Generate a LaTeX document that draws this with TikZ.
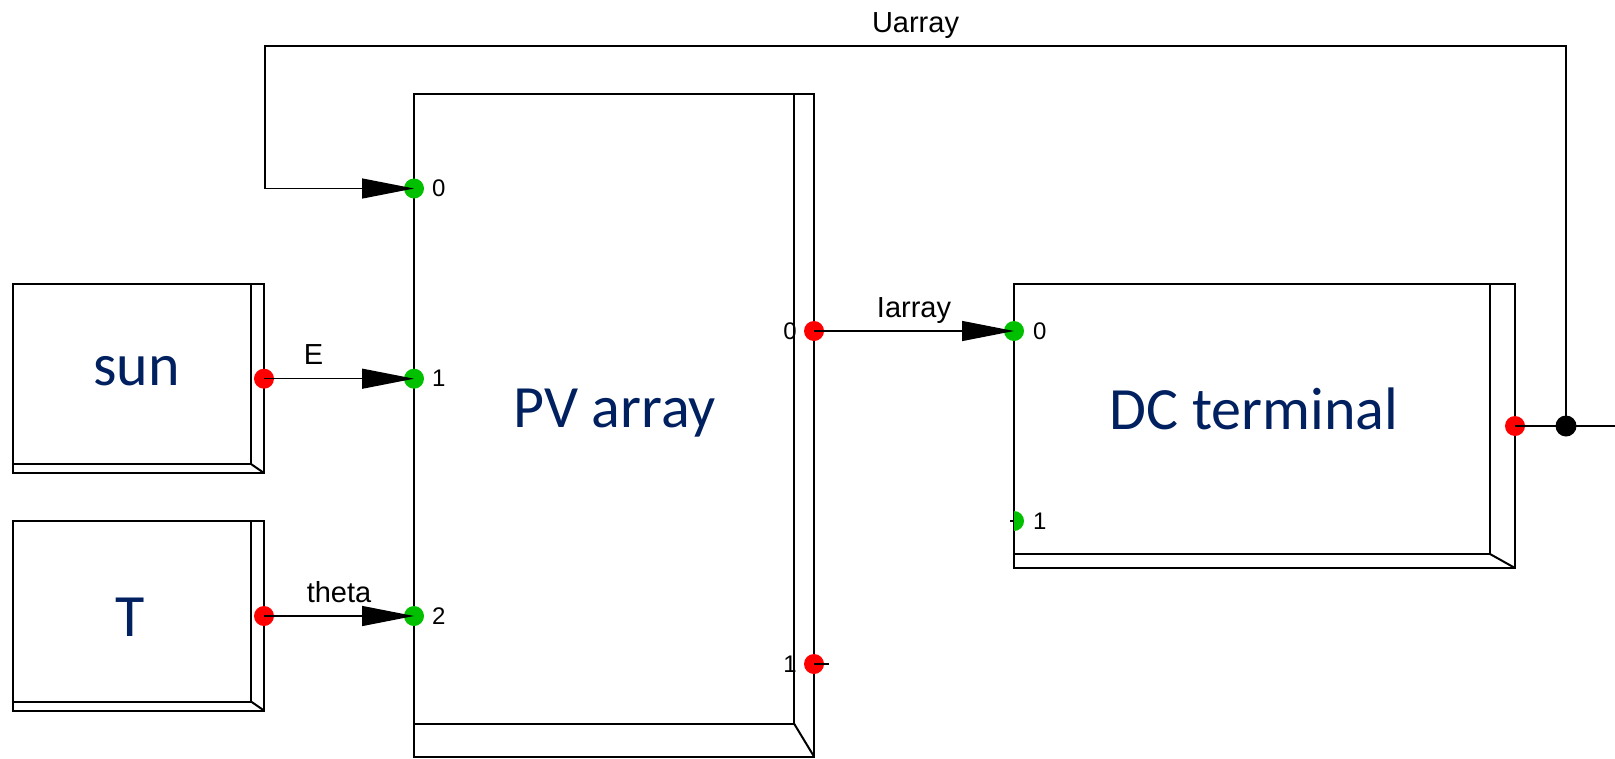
\documentclass[tikz,border=0pt]{standalone}
\usepackage{fontspec}
\setmainfont{Liberation Sans}
\newfontfamily\blockfont{Carlito}
\usetikzlibrary{arrows.meta}
\definecolor{portred}{RGB}{255,0,0}
\definecolor{portgreen}{RGB}{0,192,0}
\definecolor{blocknavy}{RGB}{0,32,96}
\tikzset{
	boxline/.style={line width=2pt},
	wire/.style={line width=1.3pt},
	sig/.style={wire, -{Triangle[length=52pt,width=20pt]}},
	outport/.style={circle, fill=portred, minimum size=20pt, inner sep=0pt},
	inport/.style={circle, fill=portgreen, minimum size=20pt, inner sep=0pt},
	junction/.style={circle, fill=black, minimum size=21pt, inner sep=0pt},
	portnum/.style={font=\fontsize{24}{28}\selectfont, inner sep=0pt},
	signame/.style={font=\fontsize{29}{34}\selectfont, anchor=base, yshift=14pt, inner sep=0pt},
	blockname/.style={font=\blockfont\fontsize{60}{72}\selectfont, text=blocknavy, anchor=base, inner sep=0pt}
}
\newcommand{\blockbox}[6]{
	\draw[boxline] (#1,#2) rectangle (#3,#4);
	\draw[boxline] (#3-#5,#2) -- (#3-#5,#4-#6) -- (#1,#4-#6);
	\draw[boxline] (#3-#5,#4-#6) -- (#3,#4);
}
\begin{document}
\begin{tikzpicture}[x=1pt,y=-1pt]
	\useasboundingbox (0,0) rectangle (1615,758);
	\blockbox{13}{284}{264}{473}{13}{9}
	\blockbox{13}{521}{264}{710.5}{13}{9}
	\blockbox{414}{94}{814}{756.5}{20}{33}
	\blockbox{1014}{284}{1515}{568}{25}{14}
	\node[blockname] (sun) at (136.5,385) {sun};
	\node[blockname] (temp) at (130.5,636) {T};
	\node[blockname] (pv) at (614.5,427) {PV array};
	\node[blockname] (dc) at (1254,429) {DC terminal};
	
	\node[outport] (sunout) at (264,378.7) {};
	\node[outport] (tout) at (264,616) {};
	\foreach \n/\y in {0/188.5,1/378.7,2/616} {
		\node[inport] (pvin\n) at (414,\y) {};
		\node[portnum, anchor=west] (pvinnum\n) at (432,\y) {\n};
	}
	\foreach \n/\y in {0/331,1/664} {
		\node[outport] (pvout\n) at (814,\y) {};
		\node[portnum, anchor=east] (pvoutnum\n) at (797,\y) {\n};
	}
	\node[inport] (dcin0) at (1014,331) {};
	\node[portnum, anchor=west] (dcinnum0) at (1033,331) {0};
	\coordinate (dcin1) at (1014,521);
	\begin{scope}
		\clip (1014,505) rectangle (1030,537);
		\fill[portgreen] (dcin1) circle[radius=10pt];
	\end{scope}
	\node[portnum, anchor=west] (dcinnum1) at (1033,521) {1};
	\node[outport] (dcout) at (1515,426) {};
	
	\coordinate (jctpt) at (1566,426);
	\coordinate (busend) at (1615,426);
	\coordinate (fbcorner) at (265,46);
	\coordinate (stub) at (829,664);
	\draw[sig] (sunout.center) -- node[signame, pos=0.33] (lble) {E} (pvin1.center);
	\draw[sig] (tout.center) -- node[signame, midway] (lbltheta) {theta} (pvin2.center);
	\draw[sig] (pvout0.center) -- node[signame, midway] (lbli) {Iarray} (dcin0.center);
	\draw[wire] (pvout1.center) -- (stub);
	\draw[wire] ([xshift=-4pt]dcin1) -- (dcin1);
	\draw[wire] (dcout.center) -- (busend);
	\draw[sig] (jctpt) |- node[signame, pos=0.75] (lblu) {Uarray} (fbcorner) |- (pvin0.center);
	\node[junction] (jct) at (jctpt) {};
\end{tikzpicture}
\end{document}
